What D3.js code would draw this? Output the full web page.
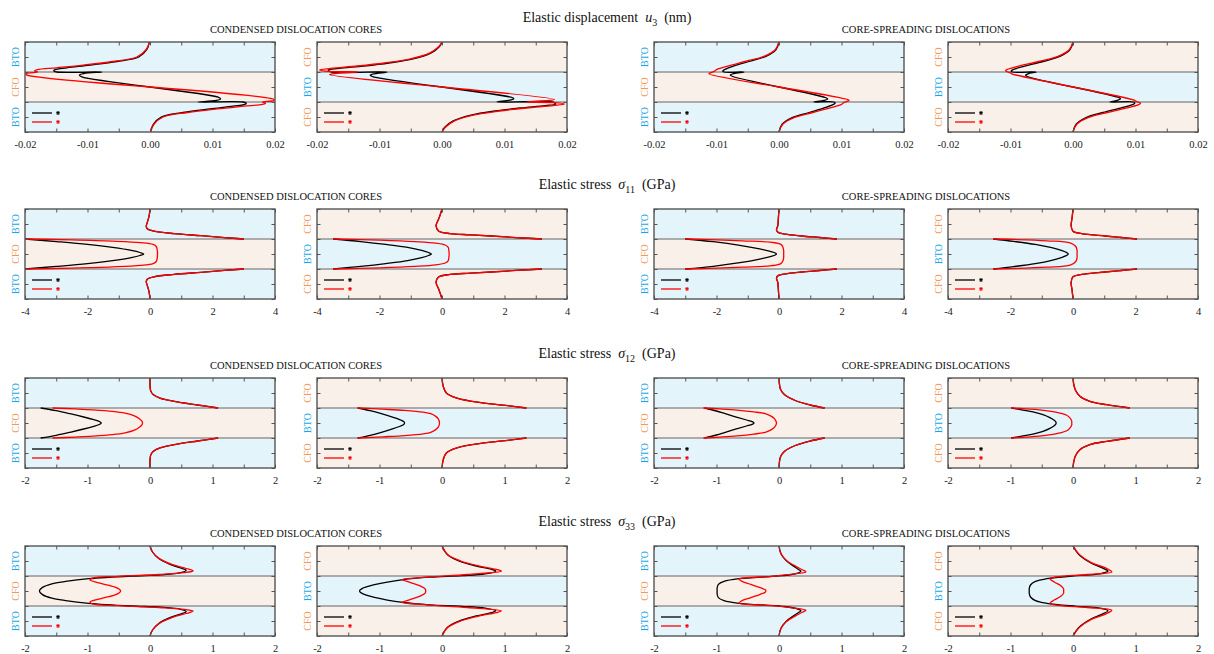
<!DOCTYPE html>
<html><head><meta charset="utf-8">
<script src="https://cdn.jsdelivr.net/npm/d3@7"></script>
<style>body{margin:0;background:#fff}svg{display:block}text{font-family:"Liberation Serif","Times New Roman",serif}</style>
</head><body><svg id="c" width="1214" height="654"></svg>
<script>
// ---------------- DATA ----------------
const groupTitles = ["CONDENSED DISLOCATION CORES", "CORE-SPREADING DISLOCATIONS"];
const layerOrderA = ["BTO", "CFO", "BTO"];
const layerOrderB = ["CFO", "BTO", "CFO"];
const depthTicks = [-1.5, -1, -0.5, 0, 0.5, 1, 1.5];
const u3MinorTicks = [-0.02, -0.015, -0.01, -0.005, 0, 0.005, 0.01, 0.015, 0.02];
const u3TickLabels = [-0.02, -0.01, 0, 0.01, 0.02];
const s11MinorTicks = [-4, -3, -2, -1, 0, 1, 2, 3, 4];
const s11TickLabels = [-4, -2, 0, 2, 4];
const s12MinorTicks = [-2, -1.5, -1, -0.5, 0, 0.5, 1, 1.5, 2];
const s12TickLabels = [-2, -1, 0, 1, 2];
const legendLabels = ["*", "*"];

// each point: [value, depth]
// Row 1: displacement u3 (nm)
const u3_c1_black = [[-0.0001,1.5],[-0.0005,1.25],[-0.0018,1.0],[-0.0053,0.85],[-0.0096,0.73],[-0.0133,0.64],[-0.0152,0.58],[-0.0154,0.54],[-0.0149,0.5],[-0.0077,0.5],[-0.0106,0.45],[-0.0113,0.4],[-0.0109,0.34],[0.0109,-0.34],[0.0113,-0.4],[0.0106,-0.45],[0.0077,-0.5],[0.0149,-0.5],[0.0154,-0.54],[0.0152,-0.58],[0.0133,-0.64],[0.0096,-0.73],[0.0053,-0.85],[0.0018,-1.0],[0.0005,-1.25],[0.0001,-1.5]];
const u3_c1_red = [[-0.0001,1.5],[-0.0006,1.25],[-0.0021,1.0],[-0.0060,0.85],[-0.0107,0.73],[-0.0150,0.64],[-0.0180,0.58],[-0.0185,0.54],[-0.0180,0.5],[-0.0198,0.45],[-0.0198,0.41],[0.0198,-0.41],[0.0198,-0.45],[0.0180,-0.5],[0.0185,-0.54],[0.0180,-0.58],[0.0150,-0.64],[0.0107,-0.73],[0.0060,-0.85],[0.0021,-1.0],[0.0006,-1.25],[0.0001,-1.5]];
const u3_c2_black = [[0,1.5],[-0.0004,1.35],[-0.0018,1.13],[-0.0048,0.93],[-0.0085,0.8],[-0.0125,0.7],[-0.0165,0.62],[-0.0182,0.57],[-0.0180,0.53],[-0.0178,0.5],[-0.0088,0.5],[-0.0108,0.44],[-0.0115,0.39],[-0.0110,0.34],[0.0110,-0.34],[0.0115,-0.39],[0.0108,-0.44],[0.0088,-0.5],[0.0178,-0.5],[0.0180,-0.53],[0.0182,-0.57],[0.0165,-0.62],[0.0125,-0.7],[0.0085,-0.8],[0.0048,-0.93],[0.0018,-1.13],[0.0004,-1.35],[0,-1.5]];
const u3_c2_red = [[0,1.5],[-0.0005,1.35],[-0.0020,1.13],[-0.0052,0.93],[-0.0092,0.8],[-0.0135,0.7],[-0.0178,0.62],[-0.0196,0.57],[-0.0180,0.52],[-0.0135,0.5],[-0.0176,0.44],[-0.0180,0.41],[0.0180,-0.41],[0.0176,-0.44],[0.0135,-0.5],[0.0180,-0.52],[0.0196,-0.57],[0.0178,-0.62],[0.0135,-0.7],[0.0092,-0.8],[0.0052,-0.93],[0.0020,-1.13],[0.0005,-1.35],[0,-1.5]];
const u3_s1_black = [[0,1.5],[-0.0005,1.24],[-0.0021,1.02],[-0.0048,0.85],[-0.0075,0.68],[-0.0088,0.57],[-0.0090,0.53],[-0.0088,0.5],[-0.0056,0.5],[-0.0072,0.45],[-0.0078,0.4],[-0.0074,0.35],[0.0074,-0.35],[0.0078,-0.4],[0.0072,-0.45],[0.0056,-0.5],[0.0088,-0.5],[0.0090,-0.53],[0.0088,-0.57],[0.0075,-0.68],[0.0048,-0.85],[0.0021,-1.02],[0.0005,-1.24],[0,-1.5]];
const u3_s1_red = [[0,1.5],[-0.0006,1.24],[-0.0024,1.02],[-0.0054,0.85],[-0.0085,0.68],[-0.0100,0.58],[-0.0103,0.53],[-0.0110,0.47],[-0.0112,0.44],[0.0112,-0.44],[0.0110,-0.47],[0.0103,-0.53],[0.0100,-0.58],[0.0085,-0.68],[0.0054,-0.85],[0.0024,-1.02],[0.0006,-1.24],[0,-1.5]];
const u3_s2_black = [[0,1.5],[-0.0005,1.24],[-0.0021,1.02],[-0.0048,0.85],[-0.0080,0.68],[-0.0097,0.57],[-0.0099,0.53],[-0.0097,0.5],[-0.0059,0.5],[-0.0072,0.44],[-0.0076,0.39],[-0.0072,0.34],[0.0072,-0.34],[0.0076,-0.39],[0.0072,-0.44],[0.0059,-0.5],[0.0097,-0.5],[0.0099,-0.53],[0.0097,-0.57],[0.0080,-0.68],[0.0048,-0.85],[0.0021,-1.02],[0.0005,-1.24],[0,-1.5]];
const u3_s2_red = [[0,1.5],[-0.0006,1.24],[-0.0024,1.02],[-0.0055,0.85],[-0.0090,0.68],[-0.0106,0.58],[-0.0108,0.54],[-0.0100,0.47],[-0.0098,0.44],[0.0098,-0.44],[0.0100,-0.47],[0.0108,-0.54],[0.0106,-0.58],[0.0090,-0.68],[0.0055,-0.85],[0.0024,-1.02],[0.0006,-1.24],[0,-1.5]];

// Row 2: stress sigma11 (GPa)
const s11_c1_top = [[0,1.5],[-0.03,1.26],[-0.09,1.04],[-0.12,0.92],[-0.08,0.83],[0.13,0.76],[0.77,0.68],[1.63,0.61],[2.48,0.54],[3.0,0.5]];
const s11_c1_bottom = [[3.0,-0.5],[2.48,-0.54],[1.63,-0.61],[0.77,-0.68],[0.13,-0.76],[-0.08,-0.83],[-0.12,-0.92],[-0.09,-1.04],[-0.03,-1.26],[0,-1.5]];
const s11_c1_black = [[-4.0,0.5],[-3.0,0.415],[-2.0,0.32],[-1.2,0.22],[-0.6,0.12],[-0.32,0.05],[-0.2,0],[-0.32,-0.05],[-0.6,-0.12],[-1.2,-0.22],[-2.0,-0.32],[-3.0,-0.415],[-4.0,-0.5]];
const s11_c1_red = [[-4.0,0.5],[-2.5,0.47],[-1.2,0.43],[-0.3,0.38],[0.1,0.32],[0.2,0.25],[0.23,0.15],[0.24,0],[0.23,-0.15],[0.2,-0.25],[0.1,-0.32],[-0.3,-0.38],[-1.2,-0.43],[-2.5,-0.47],[-4.0,-0.5]];
const s11_c2_top = [[0,1.5],[-0.06,1.3],[-0.11,1.16],[-0.19,0.94],[-0.11,0.77],[0.26,0.68],[0.9,0.64],[1.57,0.6],[2.5,0.54],[3.2,0.5]];
const s11_c2_bottom = [[3.2,-0.5],[2.5,-0.54],[1.57,-0.6],[0.9,-0.64],[0.26,-0.68],[-0.11,-0.77],[-0.19,-0.94],[-0.11,-1.16],[-0.06,-1.3],[0,-1.5]];
const s11_c2_black = [[-3.48,0.5],[-2.6,0.415],[-1.8,0.32],[-1.1,0.22],[-0.65,0.12],[-0.43,0.05],[-0.34,0],[-0.43,-0.05],[-0.65,-0.12],[-1.1,-0.22],[-1.8,-0.32],[-2.6,-0.415],[-3.48,-0.5]];
const s11_c2_red = [[-3.48,0.5],[-2.0,0.46],[-0.86,0.41],[-0.2,0.36],[0.1,0.3],[0.2,0.22],[0.22,0.1],[0.23,0],[0.22,-0.1],[0.2,-0.22],[0.1,-0.3],[-0.2,-0.36],[-0.86,-0.41],[-2.0,-0.46],[-3.48,-0.5]];
const s11_s1_top = [[0,1.5],[-0.02,1.2],[-0.04,0.94],[-0.08,0.8],[-0.03,0.72],[0.2,0.66],[0.72,0.6],[1.3,0.55],[1.85,0.5]];
const s11_s1_bottom = [[1.85,-0.5],[1.3,-0.55],[0.72,-0.6],[0.2,-0.66],[-0.03,-0.72],[-0.08,-0.8],[-0.04,-0.94],[-0.02,-1.2],[0,-1.5]];
const s11_s1_black = [[-3.0,0.5],[-2.1,0.41],[-1.25,0.29],[-0.62,0.17],[-0.25,0.08],[-0.12,0.035],[-0.08,0],[-0.12,-0.035],[-0.25,-0.08],[-0.62,-0.17],[-1.25,-0.29],[-2.1,-0.41],[-3.0,-0.5]];
const s11_s1_red = [[-3.0,0.5],[-1.17,0.44],[-0.23,0.39],[0.06,0.32],[0.13,0.22],[0.15,0.1],[0.15,0],[0.15,-0.1],[0.13,-0.22],[0.06,-0.32],[-0.23,-0.39],[-1.17,-0.44],[-3.0,-0.5]];
const s11_s2_top = [[0,1.5],[-0.03,1.2],[-0.06,0.94],[0,0.76],[0.28,0.68],[1.02,0.6],[1.55,0.55],[2.05,0.5]];
const s11_s2_bottom = [[2.05,-0.5],[1.55,-0.55],[1.02,-0.6],[0.28,-0.68],[0,-0.76],[-0.06,-0.94],[-0.03,-1.2],[0,-1.5]];
const s11_s2_black = [[-2.55,0.5],[-1.9,0.42],[-1.21,0.32],[-0.68,0.21],[-0.35,0.11],[-0.2,0.045],[-0.15,0],[-0.2,-0.045],[-0.35,-0.11],[-0.68,-0.21],[-1.21,-0.32],[-1.9,-0.42],[-2.55,-0.5]];
const s11_s2_red = [[-2.55,0.5],[-0.84,0.44],[-0.09,0.37],[0.09,0.25],[0.13,0.12],[0.13,0],[0.13,-0.12],[0.09,-0.25],[-0.09,-0.37],[-0.84,-0.44],[-2.55,-0.5]];

// Row 3: stress sigma12 (GPa)
const s12_c1_top = [[0,1.5],[0,1.25],[0.01,1.08],[0.05,0.95],[0.16,0.83],[0.39,0.72],[0.76,0.6],[1.09,0.5]];
const s12_c1_bottom = [[1.09,-0.5],[0.76,-0.6],[0.39,-0.72],[0.16,-0.83],[0.05,-0.95],[0.01,-1.08],[0,-1.25],[0,-1.5]];
const s12_c1_black = [[-1.75,0.5],[-1.5,0.41],[-1.28,0.31],[-1.06,0.2],[-0.9,0.11],[-0.81,0.05],[-0.78,0],[-0.81,-0.05],[-0.9,-0.11],[-1.06,-0.2],[-1.28,-0.31],[-1.5,-0.41],[-1.75,-0.5]];
const s12_c1_red = [[-1.56,0.5],[-1.2,0.47],[-0.91,0.44],[-0.6,0.39],[-0.4,0.33],[-0.25,0.24],[-0.17,0.14],[-0.13,0.06],[-0.12,0],[-0.13,-0.06],[-0.17,-0.14],[-0.25,-0.24],[-0.4,-0.33],[-0.6,-0.39],[-0.91,-0.44],[-1.2,-0.47],[-1.56,-0.5]];
const s12_c2_top = [[0,1.5],[0.02,1.22],[0.07,1.0],[0.24,0.83],[0.62,0.68],[1.08,0.57],[1.35,0.5]];
const s12_c2_bottom = [[1.35,-0.5],[1.08,-0.57],[0.62,-0.68],[0.24,-0.83],[0.07,-1.0],[0.02,-1.22],[0,-1.5]];
const s12_c2_black = [[-1.35,0.5],[-1.15,0.41],[-0.97,0.31],[-0.78,0.19],[-0.66,0.1],[-0.61,0.045],[-0.6,0],[-0.61,-0.045],[-0.66,-0.1],[-0.78,-0.19],[-0.97,-0.31],[-1.15,-0.41],[-1.35,-0.5]];
const s12_c2_red = [[-1.35,0.5],[-0.95,0.46],[-0.6,0.42],[-0.3,0.36],[-0.18,0.31],[-0.1,0.22],[-0.06,0.14],[-0.04,0],[-0.06,-0.14],[-0.1,-0.22],[-0.18,-0.31],[-0.3,-0.36],[-0.6,-0.42],[-0.95,-0.46],[-1.35,-0.5]];
const s12_s1_top = [[0,1.5],[0.01,1.25],[0.03,1.1],[0.09,0.94],[0.26,0.75],[0.5,0.6],[0.73,0.5]];
const s12_s1_bottom = [[0.73,-0.5],[0.5,-0.6],[0.26,-0.75],[0.09,-0.94],[0.03,-1.1],[0.01,-1.25],[0,-1.5]];
const s12_s1_black = [[-1.19,0.5],[-1.0,0.4],[-0.86,0.31],[-0.67,0.19],[-0.52,0.1],[-0.43,0.045],[-0.4,0],[-0.43,-0.045],[-0.52,-0.1],[-0.67,-0.19],[-0.86,-0.31],[-1.0,-0.4],[-1.19,-0.5]];
const s12_s1_red = [[-1.21,0.5],[-0.95,0.47],[-0.67,0.43],[-0.4,0.37],[-0.22,0.31],[-0.12,0.22],[-0.07,0.14],[-0.04,0],[-0.07,-0.14],[-0.12,-0.22],[-0.22,-0.31],[-0.4,-0.37],[-0.67,-0.43],[-0.95,-0.47],[-1.21,-0.5]];
const s12_s2_top = [[0,1.5],[0.01,1.31],[0.04,1.09],[0.11,0.89],[0.27,0.72],[0.54,0.61],[0.91,0.5]];
const s12_s2_bottom = [[0.91,-0.5],[0.54,-0.61],[0.27,-0.72],[0.11,-0.89],[0.04,-1.09],[0.01,-1.31],[0,-1.5]];
const s12_s2_black = [[-0.99,0.5],[-0.8,0.43],[-0.64,0.37],[-0.48,0.28],[-0.37,0.18],[-0.3,0.09],[-0.275,0.04],[-0.27,0],[-0.275,-0.04],[-0.3,-0.09],[-0.37,-0.18],[-0.48,-0.28],[-0.64,-0.37],[-0.8,-0.43],[-0.99,-0.5]];
const s12_s2_red = [[-0.99,0.5],[-0.75,0.47],[-0.54,0.44],[-0.35,0.39],[-0.21,0.33],[-0.1,0.26],[-0.05,0.17],[-0.02,0.06],[-0.02,0],[-0.02,-0.06],[-0.05,-0.17],[-0.1,-0.26],[-0.21,-0.33],[-0.35,-0.39],[-0.54,-0.44],[-0.75,-0.47],[-0.99,-0.5]];

// Row 4: stress sigma33 (GPa)
const s33_c1_black = [[0,1.5],[0.04,1.3],[0.14,1.08],[0.33,0.88],[0.5,0.76],[0.58,0.69],[0.49,0.61],[0.17,0.54],[-0.3,0.5],[-0.98,0.41],[-1.35,0.32],[-1.57,0.24],[-1.72,0.12],[-1.77,0],[-1.72,-0.12],[-1.57,-0.24],[-1.35,-0.32],[-0.98,-0.41],[-0.3,-0.5],[0.17,-0.54],[0.49,-0.61],[0.58,-0.69],[0.5,-0.76],[0.33,-0.88],[0.14,-1.08],[0.04,-1.3],[0,-1.5]];
const s33_c1_red = [[0,1.5],[0.04,1.3],[0.15,1.08],[0.36,0.88],[0.58,0.75],[0.69,0.67],[0.55,0.61],[0.15,0.55],[-0.5,0.49],[-0.92,0.43],[-0.96,0.37],[-0.8,0.26],[-0.57,0.14],[-0.49,0.06],[-0.47,0],[-0.49,-0.06],[-0.57,-0.14],[-0.8,-0.26],[-0.96,-0.37],[-0.92,-0.43],[-0.5,-0.49],[0.15,-0.55],[0.55,-0.61],[0.69,-0.67],[0.58,-0.75],[0.36,-0.88],[0.15,-1.08],[0.04,-1.3],[0,-1.5]];
const s33_c2_black = [[0,1.5],[0.08,1.22],[0.27,1.0],[0.55,0.83],[0.79,0.72],[0.86,0.66],[0.69,0.57],[0.32,0.51],[-0.2,0.46],[-0.62,0.38],[-1.08,0.21],[-1.28,0.08],[-1.32,0],[-1.28,-0.08],[-1.08,-0.21],[-0.62,-0.38],[-0.2,-0.46],[0.32,-0.51],[0.69,-0.57],[0.86,-0.66],[0.79,-0.72],[0.55,-0.83],[0.27,-1.0],[0.08,-1.22],[0,-1.5]];
const s33_c2_red = [[0,1.5],[0.09,1.22],[0.3,1.0],[0.6,0.83],[0.87,0.72],[0.95,0.66],[0.41,0.55],[-0.24,0.46],[-0.64,0.38],[-0.5,0.28],[-0.34,0.16],[-0.27,0.07],[-0.26,0],[-0.27,-0.07],[-0.34,-0.16],[-0.5,-0.28],[-0.64,-0.38],[-0.24,-0.46],[0.41,-0.55],[0.95,-0.66],[0.87,-0.72],[0.6,-0.83],[0.3,-1.0],[0.09,-1.22],[0,-1.5]];
const s33_s1_black = [[0,1.5],[0.03,1.25],[0.11,1.02],[0.24,0.82],[0.32,0.71],[0.35,0.66],[0.27,0.58],[0.05,0.51],[-0.64,0.41],[-0.88,0.32],[-0.97,0.22],[-0.99,0.1],[-0.99,0],[-0.99,-0.1],[-0.97,-0.22],[-0.88,-0.32],[-0.64,-0.41],[0.05,-0.51],[0.27,-0.58],[0.35,-0.66],[0.32,-0.71],[0.24,-0.82],[0.11,-1.02],[0.03,-1.25],[0,-1.5]];
const s33_s1_red = [[0,1.5],[0.03,1.25],[0.12,1.02],[0.27,0.82],[0.37,0.71],[0.43,0.64],[0.21,0.56],[-0.11,0.49],[-0.64,0.4],[-0.6,0.33],[-0.45,0.22],[-0.3,0.11],[-0.22,0.04],[-0.21,0],[-0.22,-0.04],[-0.3,-0.11],[-0.45,-0.22],[-0.6,-0.33],[-0.64,-0.4],[-0.11,-0.49],[0.21,-0.56],[0.43,-0.64],[0.37,-0.71],[0.27,-0.82],[0.12,-1.02],[0.03,-1.25],[0,-1.5]];
const s33_s2_black = [[0,1.5],[0.09,1.22],[0.28,0.94],[0.47,0.77],[0.56,0.66],[0.42,0.57],[0.05,0.51],[-0.42,0.41],[-0.6,0.32],[-0.68,0.2],[-0.7,0.08],[-0.7,0],[-0.7,-0.08],[-0.68,-0.2],[-0.6,-0.32],[-0.42,-0.41],[0.05,-0.51],[0.42,-0.57],[0.56,-0.66],[0.47,-0.77],[0.28,-0.94],[0.09,-1.22],[0,-1.5]];
const s33_s2_red = [[0,1.5],[0.1,1.22],[0.3,0.94],[0.52,0.77],[0.62,0.64],[0.23,0.55],[-0.23,0.48],[-0.37,0.41],[-0.3,0.3],[-0.19,0.17],[-0.15,0.07],[-0.15,0],[-0.15,-0.07],[-0.19,-0.17],[-0.3,-0.3],[-0.37,-0.41],[-0.23,-0.48],[0.23,-0.55],[0.62,-0.64],[0.52,-0.77],[0.3,-0.94],[0.1,-1.22],[0,-1.5]];

// ---------------- ASSEMBLY ----------------
const seg = (...parts) => parts.reduce((acc, p, i) => i ? acc.concat([null], p) : acc.concat(p), []);
const rows = [
  {lead:"Elastic displacement", sym:"u", sub:"3", unit:"(nm)", domain:[-0.02,0.02], minor:u3MinorTicks, labels:u3TickLabels, fmt:d=>d.toFixed(2),
   panels:[{black:u3_c1_black, red:u3_c1_red},{black:u3_c2_black, red:u3_c2_red},{black:u3_s1_black, red:u3_s1_red},{black:u3_s2_black, red:u3_s2_red}]},
  {lead:"Elastic stress", sym:"\u03c3", sub:"11", unit:"(GPa)", domain:[-4,4], minor:s11MinorTicks, labels:s11TickLabels, fmt:d=>String(d),
   panels:[{black:seg(s11_c1_top,s11_c1_black,s11_c1_bottom), red:seg(s11_c1_top,s11_c1_red,s11_c1_bottom)},
           {black:seg(s11_c2_top,s11_c2_black,s11_c2_bottom), red:seg(s11_c2_top,s11_c2_red,s11_c2_bottom)},
           {black:seg(s11_s1_top,s11_s1_black,s11_s1_bottom), red:seg(s11_s1_top,s11_s1_red,s11_s1_bottom)},
           {black:seg(s11_s2_top,s11_s2_black,s11_s2_bottom), red:seg(s11_s2_top,s11_s2_red,s11_s2_bottom)}]},
  {lead:"Elastic stress", sym:"\u03c3", sub:"12", unit:"(GPa)", domain:[-2,2], minor:s12MinorTicks, labels:s12TickLabels, fmt:d=>String(d),
   panels:[{black:seg(s12_c1_top,s12_c1_black,s12_c1_bottom), red:seg(s12_c1_top,s12_c1_red,s12_c1_bottom)},
           {black:seg(s12_c2_top,s12_c2_black,s12_c2_bottom), red:seg(s12_c2_top,s12_c2_red,s12_c2_bottom)},
           {black:seg(s12_s1_top,s12_s1_black,s12_s1_bottom), red:seg(s12_s1_top,s12_s1_red,s12_s1_bottom)},
           {black:seg(s12_s2_top,s12_s2_black,s12_s2_bottom), red:seg(s12_s2_top,s12_s2_red,s12_s2_bottom)}]},
  {lead:"Elastic stress", sym:"\u03c3", sub:"33", unit:"(GPa)", domain:[-2,2], minor:s12MinorTicks, labels:s12TickLabels, fmt:d=>String(d),
   panels:[{black:s33_c1_black, red:s33_c1_red},{black:s33_c2_black, red:s33_c2_red},{black:s33_s1_black, red:s33_s1_red},{black:s33_s2_black, red:s33_s2_red}]}
];

// ---------------- LAYOUT / STYLE ----------------
const panelLeft = [25, 317, 654, 948], panelW = 250;
const rowTop = [42, 209, 378, 546], panelH = 90;
const layerFill = {BTO:"#e3f4fb", CFO:"#f9f0e9"};
const layerText = {BTO:"#14a6e6", CFO:"#f0975a"};
const frameColor = "#555";

const svg = d3.select("#c");
const defs = svg.append("defs");

rows.forEach((row, ri) => {
  const top = rowTop[ri];
  const t = svg.append("text").attr("x", 607).attr("y", top - 20).attr("text-anchor", "middle").attr("font-size", 14).attr("fill", "#111");
  t.append("tspan").text(row.lead + "\u00a0\u00a0");
  t.append("tspan").attr("font-style", "italic").text(row.sym);
  t.append("tspan").attr("font-size", 10).attr("dy", 3.5).text(row.sub);
  t.append("tspan").attr("dy", -3.5).text("\u00a0\u00a0" + row.unit);

  groupTitles.forEach((g, gi) => {
    const cx = (panelLeft[gi*2] + panelLeft[gi*2+1] + panelW) / 2;
    svg.append("text").attr("x", cx).attr("y", top - 9).attr("text-anchor", "middle")
      .attr("font-size", 10.5).attr("fill", "#111").text(g);
  });

  row.panels.forEach((p, pi) => {
    const x0 = panelLeft[pi];
    const x = d3.scaleLinear().domain(row.domain).range([x0, x0 + panelW]);
    const y = d3.scaleLinear().domain([1.5, -1.5]).range([top, top + panelH]);
    const layers = pi % 2 === 0 ? layerOrderA : layerOrderB;
    const g = svg.append("g");

    layers.forEach((L, li) => {
      g.append("rect").attr("x", x0).attr("width", panelW)
        .attr("y", y(1.5 - li)).attr("height", y(0.5 - li) - y(1.5 - li)).attr("fill", layerFill[L]);
      g.append("text").attr("transform", `translate(${x0 - 6},${y(1 - li)}) rotate(-90)`)
        .attr("text-anchor", "middle").attr("font-size", 10).attr("fill", layerText[L]).text(L);
    });
    [0.5, -0.5].forEach(z => {
      g.append("line").attr("x1", x0).attr("x2", x0 + panelW).attr("y1", y(z)).attr("y2", y(z))
        .attr("stroke", "#ababab").attr("stroke-width", 2.2);
    });

    const cid = `clip${ri}_${pi}`;
    defs.append("clipPath").attr("id", cid).append("rect").attr("x", x0).attr("y", top).attr("width", panelW).attr("height", panelH);
    const line = d3.line().defined(d => d !== null).x(d => x(d[0])).y(d => y(d[1])).curve(d3.curveCatmullRom.alpha(0.5));
    const cg = g.append("g").attr("clip-path", `url(#${cid})`);
    cg.append("path").attr("d", line(p.black)).attr("fill", "none").attr("stroke", "#000").attr("stroke-width", 1.3);
    cg.append("path").attr("d", line(p.red)).attr("fill", "none").attr("stroke", "#f00").attr("stroke-width", 1.3);

    // legend
    [["#000", 71], ["#f00", 80]].forEach(([c, dy], k) => {
      g.append("line").attr("x1", x0 + 7).attr("x2", x0 + 27).attr("y1", top + dy).attr("y2", top + dy)
        .attr("stroke", c).attr("stroke-width", 1.3);
      g.append("path").attr("transform", `translate(${x0 + 33},${top + dy})`)
        .attr("d", d3.symbol(d3.symbolAsterisk, 10)()).attr("stroke", c).attr("stroke-width", 1.1).attr("fill", "none")
        .attr("aria-label", legendLabels[k]);
    });

    // frame and axes
    const isLabel = d => row.labels.some(l => Math.abs(l - d) < 1e-9);
    const ax = g.append("g").attr("transform", `translate(0,${top + panelH})`)
      .call(d3.axisBottom(x).tickValues(row.minor).tickSize(-3.5).tickPadding(9).tickFormat(d => isLabel(d) ? row.fmt(d) : ""));
    const axT = g.append("g").attr("transform", `translate(0,${top})`)
      .call(d3.axisTop(x).tickValues(row.minor).tickSize(-3.5).tickFormat(""));
    const axL = g.append("g").attr("transform", `translate(${x0},0)`)
      .call(d3.axisLeft(y).tickValues(depthTicks).tickSize(-3.5).tickFormat(""));
    const axR = g.append("g").attr("transform", `translate(${x0 + panelW},0)`)
      .call(d3.axisRight(y).tickValues(depthTicks).tickSize(-3.5).tickFormat(""));
    [ax, axT, axL, axR].forEach(a => {
      a.attr("font-family", "Liberation Serif");
      a.select(".domain").remove();
      a.selectAll(".tick line").attr("stroke", frameColor).attr("stroke-width", 1);
      a.selectAll(".tick text").attr("font-family", "Liberation Serif").attr("font-size", 10.5).attr("fill", "#222");
    });
    g.append("rect").attr("x", x0).attr("y", top).attr("width", panelW).attr("height", panelH)
      .attr("fill", "none").attr("stroke", frameColor).attr("stroke-width", 1.4);
  });
});
</script></body></html>
